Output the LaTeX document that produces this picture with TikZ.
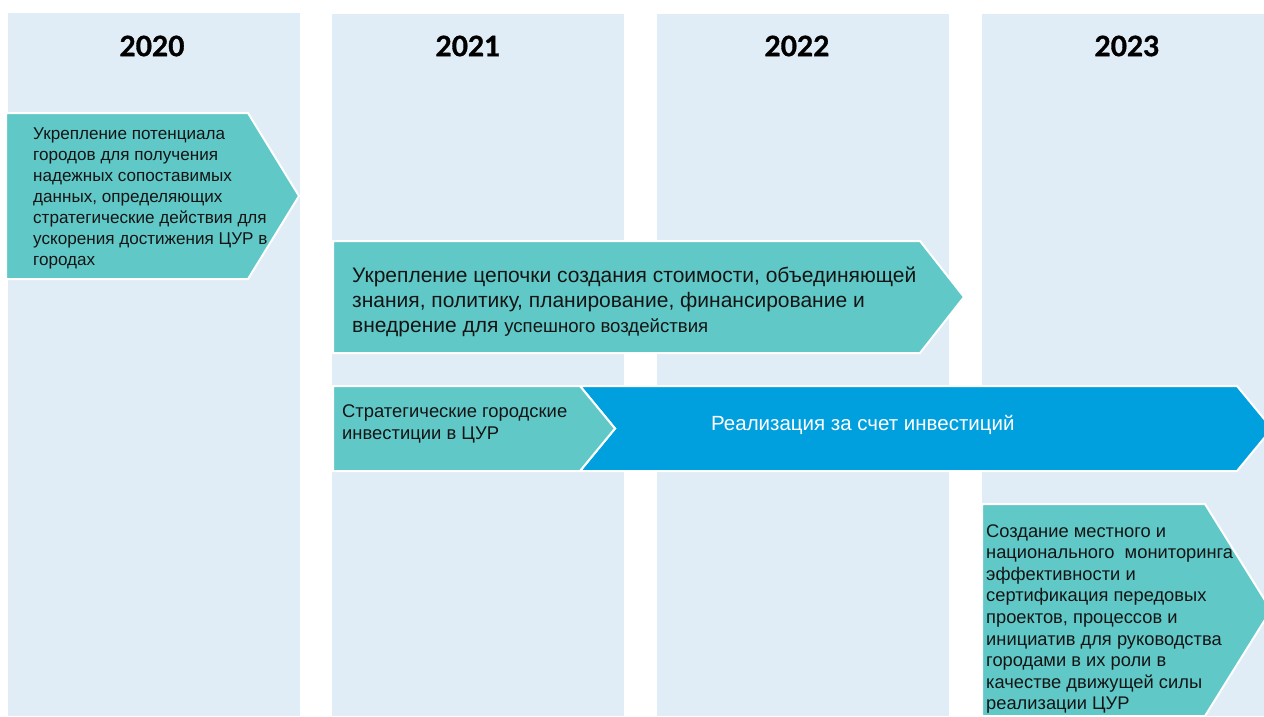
\documentclass[tikz,border=0pt]{standalone}
\usepackage{fontspec}
\setmainfont{Liberation Sans}
\newfontfamily\yearfont[BoldFeatures={FakeBold=1.2}]{Lato}
\newcommand\tlines[1]{\begin{tabular}[t]{@{}l@{}}#1\end{tabular}}
\definecolor{colbg}{RGB}{224,236,246}
\definecolor{teal1}{RGB}{96,201,200}
\definecolor{blue1}{RGB}{0,160,222}
\definecolor{txt}{RGB}{20,20,20}
\tikzset{
  colbox/.style={fill=colbg, draw=none},
  tealarrow/.style={fill=teal1, draw=white, line width=2pt, line join=miter},
  bluearrow/.style={fill=blue1, draw=white, line width=2pt, line join=miter},
  yearlbl/.style={font=\yearfont\bfseries\fontsize{28}{30}\selectfont, text=black, inner sep=0},
  txtlbl/.style={anchor=base west, inner sep=0, text=txt},
}
\begin{document}
\begin{tikzpicture}[x=1pt,y=-1pt]
\useasboundingbox (0,0) rectangle (1264,716);
\begin{scope}
\clip (0,0) rectangle (1264,716);
% columns
\fill[colbox] (8,13) rectangle (300,716);
\fill[colbox] (332,14) rectangle (624,716);
\fill[colbox] (657,14) rectangle (949,716);
\fill[colbox] (982,14) rectangle (1270,716);
\node[yearlbl] (y2020) at (152,46) {2020};
\node[yearlbl] (y2021) at (468,46) {2021};
\node[yearlbl] (y2022) at (797,46) {2022};
\node[yearlbl] (y2023) at (1127,46) {2023};
% arrow 1
\draw[tealarrow] (6,113) -- (248,113) -- (299,196) -- (248,279) -- (6,279) -- cycle;
\node[txtlbl, font=\fontsize{17.1}{21}\selectfont] (t1) at (33,139) {\tlines{Укрепление потенциала\\городов для получения\\надежных сопоставимых\\данных, определяющих\\стратегические действия для\\ускорения достижения ЦУР в\\городах}};
% arrow 2
\draw[tealarrow] (333,241) -- (920,241) -- (964,297) -- (920,353) -- (333,353) -- cycle;
\node[txtlbl, font=\fontsize{21}{25}\selectfont] (t2) at (352,282) {\tlines{Укрепление цепочки создания стоимости, объединяющей\\знания, политику, планирование, финансирование и\\внедрение для {\fontsize{18.6}{25}\selectfont успешного воздействия}}};
% blue arrow
\draw[bluearrow] (580,386) -- (1237,386) -- (1272,428.5) -- (1237,471) -- (580,471) -- (615,428.5) -- cycle;
\node[txtlbl, text=white, font=\fontsize{20.5}{24}\selectfont] (t4) at (711,430) {Реализация за счет инвестиций};
% arrow 3 teal
\draw[tealarrow] (333,386) -- (580,386) -- (615,428.5) -- (580,471) -- (333,471) -- cycle;
\node[txtlbl, font=\fontsize{18.4}{22}\selectfont] (t3) at (342,417) {\tlines{Стратегические городские\\инвестиции в ЦУР}};
% arrow 4
\draw[tealarrow] (982,504) -- (1205,504) -- (1271,610) -- (1205,716) -- (982,716) -- cycle;
\node[txtlbl, font=\fontsize{18.3}{21.6}\selectfont] (t5) at (986,537) {\tlines{Создание местного и\\национального\ \ мониторинга\\эффективности и\\сертификация передовых\\проектов, процессов и\\инициатив для руководства\\городами в их роли в\\качестве движущей силы\\реализации ЦУР}};
\end{scope}
\end{tikzpicture}
\end{document}
